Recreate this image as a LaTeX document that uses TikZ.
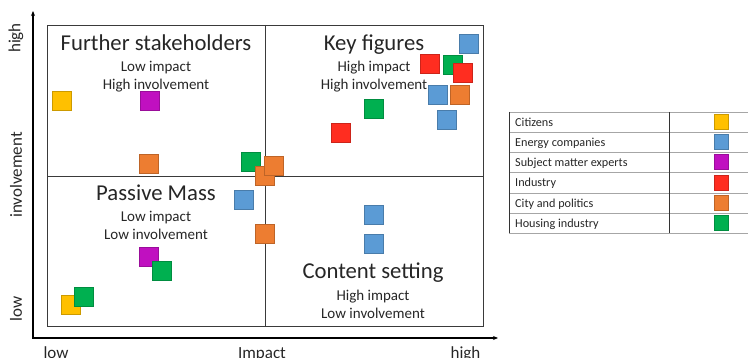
\documentclass[tikz,border=0pt]{standalone}
\usepackage{fontspec}
\setmainfont{Carlito}
\usetikzlibrary{arrows.meta}
\definecolor{cyel}{HTML}{FFC000}
\definecolor{cblu}{HTML}{5B9BD5}
\definecolor{cpur}{HTML}{C010C0}
\definecolor{cred}{HTML}{FF2D20}
\definecolor{cora}{HTML}{ED7D31}
\definecolor{cgre}{HTML}{00B050}
\definecolor{boxgray}{HTML}{3A3A3A}
\tikzset{
  sq/.style={draw=#1!80!black, line width=0.4pt, fill=#1, minimum size=19pt, inner sep=0pt},
  sw/.style={draw=#1!80!black, line width=0.4pt, fill=#1, minimum width=14pt, minimum height=15pt, inner sep=0pt},
  title/.style={font=\fontsize{22.7}{26}\selectfont, anchor=base, inner sep=0pt, text=black!85},
  sub/.style={font=\fontsize{15}{18}\selectfont, anchor=base, inner sep=0pt, text=black!85},
  axlab/.style={font=\fontsize{17}{20}\selectfont, inner sep=0pt, text=black!85},
  leg/.style={font=\fontsize{12.2}{14}\selectfont, anchor=base west, inner sep=0pt, text=black!85},
}
\begin{document}
\begin{tikzpicture}[x=1pt,y=-1pt]
\useasboundingbox (0,0) rectangle (748,358);
% axes
\coordinate (o) at (33,338);
\coordinate (ytip) at (33,11);
\coordinate (xtip) at (498,338);
\draw[line width=1.3pt, -{Stealth[length=5pt,width=4pt]}] (33,339) -- (ytip);
\draw[line width=1.3pt, -{Stealth[length=5pt,width=4pt]}] (32,338) -- (xtip);
% quadrant box
\draw[boxgray, line width=0.9pt] (47,25) rectangle (483,326);
\draw[boxgray, line width=0.9pt] (265,25) -- (265,326);
\draw[boxgray, line width=0.9pt] (47,176) -- (483,176);
% quadrant texts
\node[title] (t1) at (156,50.7) {Further stakeholders};
\node[sub] (t1a) at (156,72) {Low impact};
\node[sub] (t1b) at (156,90) {High involvement};
\node[title] (t2) at (374,50.7) {Key figures};
\node[sub] (t2a) at (374,72) {High impact};
\node[sub] (t2b) at (374,90) {High involvement};
\node[title] (t3) at (156,200.7) {Passive Mass};
\node[sub] (t3a) at (156,221.7) {Low impact};
\node[sub] (t3b) at (156,239.5) {Low involvement};
\node[title] (t4) at (373,279) {Content setting};
\node[sub] (t4a) at (373,300.7) {High impact};
\node[sub] (t4b) at (373,318.5) {Low involvement};
% axis labels
\node[axlab, anchor=base] (xl) at (56,359) {low};
\node[axlab, anchor=base] (xm) at (262,359) {Impact};
\node[axlab, anchor=base] (xh) at (465.5,359) {high};
\node[axlab, rotate=90] (yh) at (16,38) {high};
\node[axlab, rotate=90] (ym) at (16,175) {involvement};
\node[axlab, rotate=90] (yl) at (16,309) {low};
% squares: upper left
\node[sq=cyel] (s1) at (61.5,101) {};
\node[sq=cpur] (s2) at (150,101) {};
\node[sq=cora] (s3) at (149,164) {};
\node[sq=cgre] (s4) at (251,162) {};
\node[sq=cora] (s5) at (265,175.5) {};
\node[sq=cora] (s6) at (273.5,165.5) {};
% upper right
\node[sq=cblu] (s7) at (469,44) {};
\node[sq=cred] (s8) at (429.5,63.5) {};
\node[sq=cgre] (s9) at (452.5,64.5) {};
\node[sq=cred] (s10) at (462.5,72.5) {};
\node[sq=cblu] (s11) at (438,95) {};
\node[sq=cora] (s12) at (460,94.5) {};
\node[sq=cblu] (s13) at (446.5,120) {};
\node[sq=cgre] (s14) at (373.5,109) {};
\node[sq=cred] (s15) at (340.5,132.5) {};
% lower left
\node[sq=cblu] (s16) at (244,199.5) {};
\node[sq=cora] (s17) at (265,233.5) {};
\node[sq=cpur] (s18) at (149,257) {};
\node[sq=cgre] (s19) at (162,270.5) {};
\node[sq=cyel] (s20) at (70.5,304.5) {};
\node[sq=cgre] (s21) at (84,296.5) {};
% lower right
\node[sq=cblu] (s22) at (373.5,214.5) {};
\node[sq=cblu] (s23) at (373.5,243.5) {};
% legend table
\foreach \yy in {112,132,152,172.5,193,213,233} {
  \draw[gray!70, line width=0.8pt] (509,\yy) -- (748,\yy);
}
\draw[black!80, line width=0.8pt] (509,112) -- (509,233);
\draw[black!80, line width=0.8pt] (669,112) -- (669,233);
\node[leg] (l1) at (515,126.3) {Citizens};
\node[leg] (l2) at (515,146.3) {Energy companies};
\node[leg] (l3) at (515,166.5) {Subject matter experts};
\node[leg] (l4) at (515,186.8) {Industry};
\node[leg] (l5) at (515,207.2) {City and politics};
\node[leg] (l6) at (515,227.3) {Housing industry};
\node[sw=cyel] (w1) at (721,122) {};
\node[sw=cblu] (w2) at (721,142) {};
\node[sw=cpur] (w3) at (721,162) {};
\node[sw=cred] (w4) at (721,182.5) {};
\node[sw=cora] (w5) at (721,203) {};
\node[sw=cgre] (w6) at (721,223) {};
\end{tikzpicture}
\end{document}
